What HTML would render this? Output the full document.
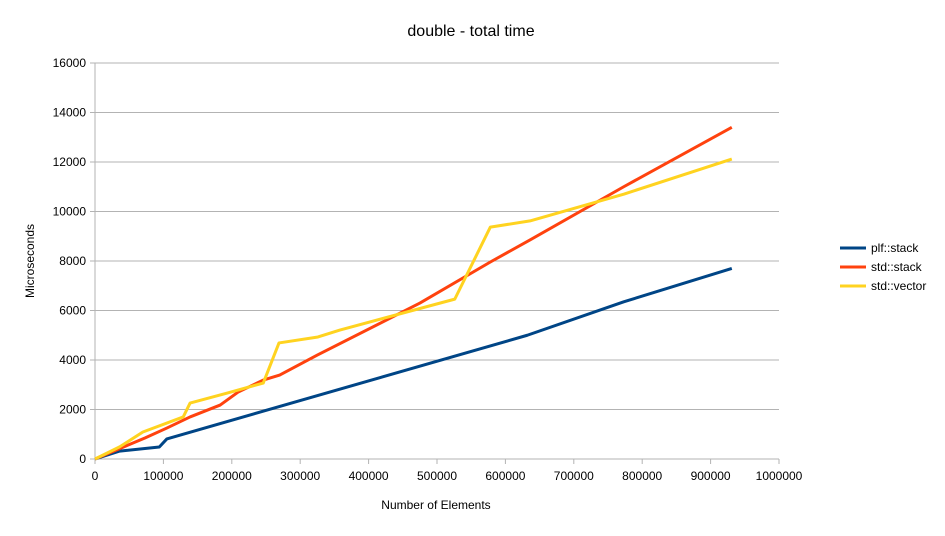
<!DOCTYPE html>
<html><head><meta charset="utf-8"><style>
body{margin:0;background:#fff;font-family:"Liberation Sans",sans-serif}
svg text{font-family:"Liberation Sans",sans-serif}
</style></head><body>
<svg id="c" width="945" height="531"></svg>
<script>
const xTicks=[0,100000,200000,300000,400000,500000,600000,700000,800000,900000,1000000];
const yTicks=[0,2000,4000,6000,8000,10000,12000,14000,16000];
const seriesNames=["plf::stack","std::stack","std::vector"];
const plfX=[0,36000,94000,105000,632000,773000,931000];
const plfY=[0,320,485,810,5000,6350,7700];
const stackX=[0,73000,105000,139000,183000,209000,246000,270000,325000,475000,578000,636000,773000,931000];
const stackY=[0,850,1250,1700,2180,2700,3190,3390,4200,6300,7960,8850,11000,13400];
const vecX=[0,36000,70000,129000,139000,194000,246000,269000,326000,358000,526000,578000,636000,773000,931000];
const vecY=[0,490,1090,1700,2260,2670,3070,4690,4930,5210,6460,9370,9620,10700,12120];
const colors=["#004586","#ff420e","#ffd320"];
const svg=document.getElementById('c');const NS="http://www.w3.org/2000/svg";
const L=95,R=779,T=63,B=459;
const sx=v=>L+(v/1000000)*(R-L);
const sy=v=>B-(v/16000)*(B-T);
function mk(t,a,txt){const e=document.createElementNS(NS,t);for(const k in a)e.setAttribute(k,a[k]);if(txt!==undefined)e.textContent=txt;svg.appendChild(e);return e;}
yTicks.forEach(v=>{
 const g=mk('line',{x1:L-5,x2:R,y1:sy(v),y2:sy(v),stroke:'#b3b3b3','stroke-width':1});
 
 
 const t=mk('text',{x:L-9,y:sy(v)+4,'text-anchor':'end','font-size':12,fill:'#000'},v);
 
 
});
mk('line',{x1:L,x2:L,y1:T,y2:B+5,stroke:'#b3b3b3'});
xTicks.forEach(v=>{
 const g=mk('line',{x1:sx(v),x2:sx(v),y1:B,y2:B+5,stroke:'#b3b3b3'});
 
 
 const t=mk('text',{x:sx(v),y:B+21,'text-anchor':'middle','font-size':12,fill:'#000'},v);
 
 
});
const data=[[plfX,plfY],[stackX,stackY],[vecX,vecY]];
data.forEach((d,i)=>{
 const pts=d[0].map((x,j)=>sx(x)+','+sy(d[1][j])).join(' ');
 const p=mk('polyline',{points:pts,fill:'none',stroke:colors[i],'stroke-width':3,'stroke-linejoin':'round'});
 
 
 const ly=248+i*19;
 const ll=mk('line',{x1:840,x2:866,y1:ly,y2:ly,stroke:colors[i],'stroke-width':3});
 
 
 const lt=mk('text',{x:871,y:ly+4,'font-size':12,fill:'#000'},seriesNames[i]);
 
 
});
const ti=mk('text',{x:471,y:36,'text-anchor':'middle','font-size':16,fill:'#000'},'double - total time');


const xt=mk('text',{x:436,y:509,'text-anchor':'middle','font-size':12,fill:'#000'},'Number of Elements');


const yt=mk('text',{x:0,y:0,'text-anchor':'middle','font-size':12,fill:'#000',transform:'translate(34,261) rotate(-90)'},'Microseconds');


</script>
</body></html>
